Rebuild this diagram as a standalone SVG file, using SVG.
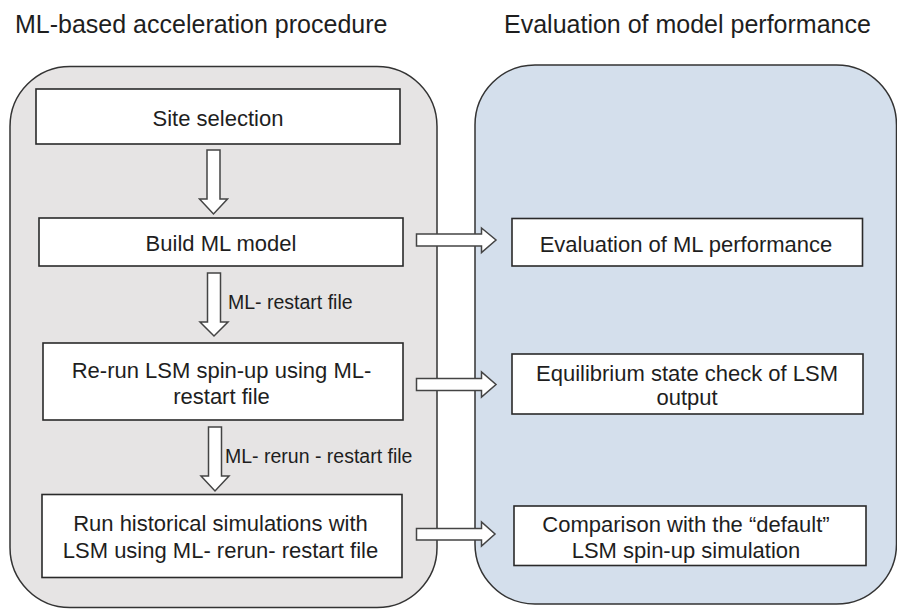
<svg xmlns="http://www.w3.org/2000/svg" width="897" height="609" viewBox="0 0 897 609">
<style>
text{font-family:"Liberation Sans",Arial,Helvetica,sans-serif;fill:#1e1e1e}
.title{font-size:25px}
.t{font-size:22px;text-anchor:middle}
.lbl{font-size:19.5px}
.box{fill:#ffffff;stroke:#2a2a2a;stroke-width:1.6}
.arr{fill:#ffffff;stroke:#444444;stroke-width:1.5;stroke-linejoin:miter}
</style>
<rect width="897" height="609" fill="#ffffff"/>
<g id="container-left">
<rect x="10" y="66.5" width="427" height="541" rx="60" ry="60" fill="#e6e4e4" stroke="#333333" stroke-width="1.5"/>
</g>
<g id="container-right">
<rect x="475" y="65" width="421.5" height="539" rx="60" ry="60" fill="#d4dfec" stroke="#333333" stroke-width="1.5"/>
</g>
<g id="titles">
<text class="title" x="15" y="32.5">ML-based acceleration procedure</text>
<text class="title" x="504" y="32.5">Evaluation of model performance</text>
</g>
<g id="connectors">
<polygon class="arr" points="207,150 220,150 220,199 227.5,199 213.5,214 199.5,199 207,199"/>
<polygon class="arr" points="207.5,273 220.5,273 220.5,322 228,322 214,336 200,322 207.5,322"/>
<polygon class="arr" points="208.5,427 221.5,427 221.5,476 229,476 215,491 201,476 208.5,476"/>
<polygon class="arr" points="416.5,234 481.5,234 481.5,228 496,240 481.5,252.5 481.5,246 416.5,246"/>
<polygon class="arr" points="416.5,378.5 481.5,378.5 481.5,372 496,384.5 481.5,397 481.5,390.5 416.5,390.5"/>
<polygon class="arr" points="416.5,528.5 481.5,528.5 481.5,522 495,534 481.5,546 481.5,540 416.5,540"/>
<text class="lbl" x="228" y="309">ML- restart file</text>
<text class="lbl" x="225" y="463">ML- rerun - restart file</text>
</g>
<g id="site-selection">
<rect class="box" x="36" y="89" width="364" height="55"/>
<text class="t" x="218" y="126">Site selection</text>
</g>
<g id="build-ml-model">
<rect class="box" x="39" y="218" width="364" height="48"/>
<text class="t" x="221" y="251">Build ML model</text>
</g>
<g id="rerun-lsm">
<rect class="box" x="43" y="343" width="360" height="77"/>
<text class="t" x="221.5" y="378">Re-run LSM spin-up using ML-</text>
<text class="t" x="221.5" y="403.5">restart file</text>
</g>
<g id="run-historical">
<rect class="box" x="42" y="494.5" width="360" height="83"/>
<text class="t" x="220.5" y="530.5">Run historical simulations with</text>
<text class="t" x="220.5" y="557.5">LSM using ML- rerun- restart file</text>
</g>
<g id="eval-ml">
<rect class="box" x="512" y="218.5" width="350.5" height="47.5"/>
<text class="t" x="686" y="252">Evaluation of ML performance</text>
</g>
<g id="equilibrium">
<rect class="box" x="512" y="354" width="351" height="60"/>
<text class="t" x="687" y="380.5">Equilibrium state check of LSM</text>
<text class="t" x="687" y="405">output</text>
</g>
<g id="comparison">
<rect class="box" x="514" y="506" width="352" height="59.5"/>
<text class="t" x="686" y="532">Comparison with the “default”</text>
<text class="t" x="686" y="557.5">LSM spin-up simulation</text>
</g>
</svg>
